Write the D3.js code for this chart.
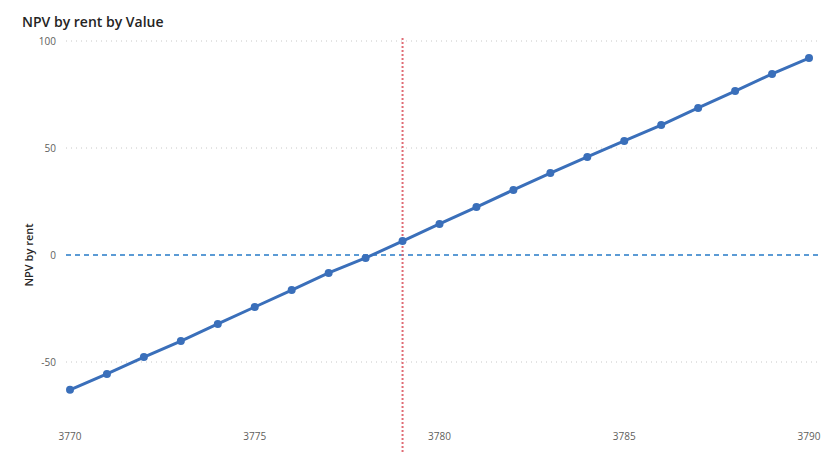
<!DOCTYPE html><html><head><meta charset="utf-8">
<script src="https://cdn.jsdelivr.net/npm/d3@7"></script>
<style>body{margin:0;background:#fff}text{font-family:"Open Sans",sans-serif}</style></head><body>
<svg id="c" width="829" height="456"></svg>
<script>
const rent=[3770,3771,3772,3773,3774,3775,3776,3777,3778,3779,3780,3781,3782,3783,3784,3785,3786,3787,3788,3789,3790];
const npv=[-63,-55.6,-47.7,-40.2,-32.2,-24.3,-16.4,-8.4,-1.4,6.5,14.5,22.4,30.4,38.3,45.8,53.3,60.7,68.7,76.6,84.6,92];
const xTicks=[3770,3775,3780,3785,3790];
const yTicks=[-50,0,50,100];
const refRent=3779;
const svg=d3.select("#c");
const x=d3.scaleLinear().domain([3770,3790]).range([70,809]);
const y=d3.scaleLinear().domain([-50,100]).range([362,41]);
svg.append("text").attr("x",22).attr("y",27).attr("font-size",14).attr("font-weight",600).attr("fill","#252423").text("NPV by rent by Value");
const g=svg.append("g");
yTicks.forEach(t=>{
  if(t!==0) g.append("line").attr("x1",66).attr("x2",818).attr("y1",y(t)).attr("y2",y(t)).attr("stroke","#c8c8c8").attr("stroke-dasharray","1,4");
  g.append("text").attr("x",56).attr("y",y(t)+4).attr("text-anchor","end").attr("font-size",10).attr("fill","#605e5c").text(t);
});
xTicks.forEach(t=>g.append("text").attr("x",x(t)).attr("y",440).attr("text-anchor","middle").attr("font-size",10).attr("fill","#605e5c").text(t));
svg.append("text").attr("transform",`translate(33,${y(0)}) rotate(-90)`).attr("text-anchor","middle").attr("font-size",11).attr("font-weight",600).attr("fill","#252423").text("NPV by rent");
g.append("line").attr("x1",66).attr("x2",818).attr("y1",y(0)).attr("y2",y(0)).attr("stroke","#5b9bd5").attr("stroke-width",2).attr("stroke-dasharray","5,4");
g.append("line").attr("x1",x(refRent)).attr("x2",x(refRent)).attr("y1",38).attr("y2",452).attr("stroke","#e06c75").attr("stroke-width",2).attr("stroke-dasharray","2,2");
g.append("path").datum(rent.map((r,i)=>[r,npv[i]])).attr("d",d3.line().x(d=>x(d[0])).y(d=>y(d[1]))).attr("fill","none").attr("stroke","#3a6fba").attr("stroke-width",3);
g.selectAll("circle").data(rent).join("circle").attr("cx",d=>x(d)).attr("cy",(d,i)=>y(npv[i])).attr("r",4).attr("fill","#3a6fba");
</script></body></html>
